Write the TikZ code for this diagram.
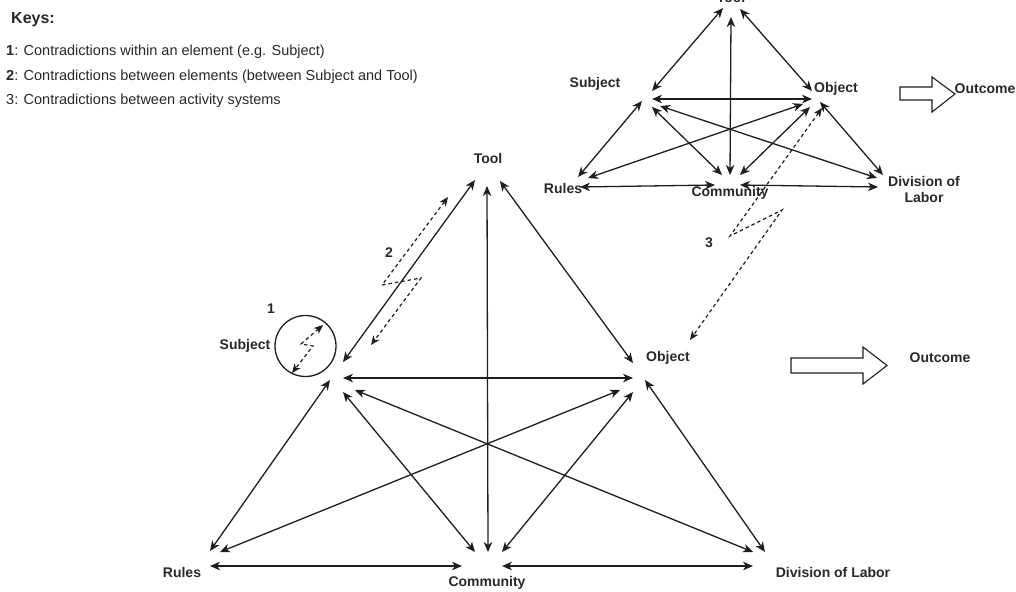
\documentclass[tikz,border=0pt]{standalone}
\usepackage{fontspec}
\setmainfont{Liberation Sans}
\usetikzlibrary{arrows.meta}
\definecolor{ink}{RGB}{30,30,30}
\definecolor{txt}{RGB}{40,40,40}
\tikzset{
  lbl/.style={font=\fontsize{14}{16}\selectfont\bfseries, text=txt, inner sep=0pt, align=center},
  keytxt/.style={font=\fontsize{14.5}{17}\selectfont, text=txt, inner sep=0pt, anchor=west},
  tip/.style={Stealth[length=10pt,width=8.5pt,inset=3pt]},
  link/.style={draw=ink, line width=1.3pt, {Stealth[length=10pt,width=8.5pt,inset=3pt]}-{Stealth[length=10pt,width=8.5pt,inset=3pt]}},
  dlink/.style={draw=ink, line width=1.2pt, dash pattern=on 3.5pt off 3pt, {Stealth[length=9pt,width=7.5pt,inset=2.5pt]}-{Stealth[length=9pt,width=7.5pt,inset=2.5pt]}},
  blockarrow/.style={draw=ink, line width=1.1pt, fill=white}
}
\begin{document}
\begin{tikzpicture}[x=1pt,y=-1pt]
\useasboundingbox (0,0) rectangle (1016,591);
% ---------- keys ----------
\node[font=\fontsize{16}{18}\selectfont\bfseries, text=txt, inner sep=0pt, anchor=west] (keys) at (11,20) {Keys:};
\node[keytxt] (k1) at (6,52) {\textbf{1}: Contradictions within an element (e.g. Subject)};
\node[keytxt] (k2) at (6,77) {\textbf{2}: Contradictions between elements (between Subject and Tool)};
\node[keytxt] (k3) at (6,101) {3: Contradictions between activity systems};

% ---------- main triangle ----------
\node[lbl] (T) at (488,158) {Tool};
\node[lbl] (S) at (245,346) {Subject};
\node[lbl] (O) at (668,358) {Object};
\node[lbl] (R) at (182,572) {Rules};
\node[lbl] (C) at (487,583) {Community};
\node[lbl] (D) at (833,572) {Division of Labor};
\node[lbl] (OC) at (940,358) {Outcome};

\coordinate (Tl) at (475,180); \coordinate (Tm) at (487,186); \coordinate (Tr) at (500,181);
\coordinate (St) at (343,362); \coordinate (Sh) at (343,378); \coordinate (Sr) at (330,380);
\coordinate (Sc) at (343,392); \coordinate (Sd) at (355,390);
\coordinate (Ot) at (633,363); \coordinate (Oh) at (633,378); \coordinate (Or) at (620,390);
\coordinate (Oc) at (633,392); \coordinate (Od) at (645,380);
\coordinate (Rs) at (210,551); \coordinate (Ro) at (220,552); \coordinate (Rh) at (210,566);
\coordinate (Cs) at (475,552); \coordinate (Ct) at (488,552); \coordinate (Co) at (502,552);
\coordinate (Chl) at (462,566); \coordinate (Chr) at (502,566);
\coordinate (Ds) at (753,552); \coordinate (Do) at (765,552); \coordinate (Dh) at (753,566);

\draw[link] (Tl) -- (St);
\draw[link] (Tm) -- (Ct);
\draw[link] (Tr) -- (Ot);
\draw[link] (Sh) -- (Oh);
\draw[link] (Sr) -- (Rs);
\draw[link] (Sc) -- (Cs);
\draw[link] (Sd) -- (Ds);
\draw[link] (Or) -- (Ro);
\draw[link] (Oc) -- (Co);
\draw[link] (Od) -- (Do);
\draw[link] (Rh) -- (Chl);
\draw[link] (Chr) -- (Dh);

% outcome block arrow (main)
\draw[blockarrow] (791,358) -- (863,358) -- (863,347) -- (887,365.5) -- (863,384) -- (863,373) -- (791,373) -- cycle;

% contradiction 1
\node[draw=ink, line width=1.3pt, circle, minimum size=61pt, inner sep=0pt] (circ) at (305.5,346) {};
\node[lbl] (n1) at (271,309) {1};
\coordinate (a1) at (323,325); \coordinate (a2) at (301,344); \coordinate (a3) at (313,346); \coordinate (a4) at (292,373);
\draw[dlink] (a1) -- (a2) -- (a3) -- (a4);

% contradiction 2
\node[lbl] (n2) at (389,253) {2};
\coordinate (b1) at (448,197); \coordinate (b2) at (382,285); \coordinate (b3) at (421,278); \coordinate (b4) at (371,345);
\draw[dlink] (b1) -- (b2) -- (b3) -- (b4);

% ---------- small triangle ----------
\node[lbl, anchor=base] (t) at (731,3) {Tool};
\node[lbl] (s) at (595,84) {Subject};
\node[lbl] (o) at (836,89) {Object};
\node[lbl] (r) at (563,188) {Rules};
\node[lbl] (c) at (730,193) {Community};
\node[lbl] (d) at (924,189) {Division of\\Labor};
\node[lbl] (oc) at (985,89) {Outcome};

\coordinate (tl) at (723,8); \coordinate (tm) at (731,17); \coordinate (tr) at (740,9);
\coordinate (st) at (652,91); \coordinate (sh) at (652,99); \coordinate (sr) at (642,101);
\coordinate (sc) at (652,107); \coordinate (sd) at (660,106);
\coordinate (ot) at (812,91); \coordinate (oh) at (812,99); \coordinate (or) at (803,104);
\coordinate (oc') at (810,107); \coordinate (od) at (820,102);
\coordinate (rs) at (578,177); \coordinate (ro) at (588,178); \coordinate (rh) at (580,187);
\coordinate (cs) at (722,175); \coordinate (ct) at (730,175); \coordinate (co) at (740,175);
\coordinate (chl) at (715,185); \coordinate (chr) at (740,185);
\coordinate (ds) at (877,178); \coordinate (do) at (883,175); \coordinate (dh) at (878,187);

\draw[link] (tl) -- (st);
\draw[link] (tm) -- (ct);
\draw[link] (tr) -- (ot);
\draw[link] (sh) -- (oh);
\draw[link] (sr) -- (rs);
\draw[link] (sc) -- (cs);
\draw[link] (sd) -- (ds);
\draw[link] (or) -- (ro);
\draw[link] (oc') -- (co);
\draw[link] (od) -- (do);
\draw[link] (rh) -- (chl);
\draw[link] (chr) -- (dh);

% outcome block arrow (small)
\draw[blockarrow] (900,87) -- (932,87) -- (932,77) -- (955,94) -- (932,112) -- (932,100) -- (900,100) -- cycle;

% contradiction 3
\node[lbl] (n3) at (709,243) {3};
\coordinate (e1) at (822,108); \coordinate (e2) at (730,236); \coordinate (e3) at (782,210); \coordinate (e4) at (690,340);
\draw[dlink] (e1) -- (e2) -- (e3) -- (e4);
\end{tikzpicture}
\end{document}
